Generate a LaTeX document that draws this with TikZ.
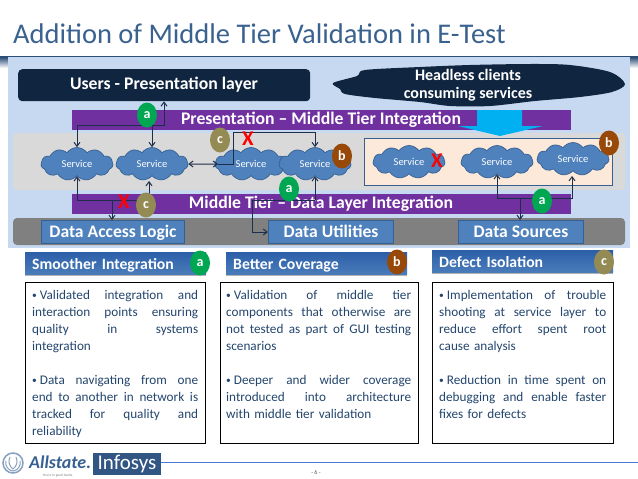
\documentclass[tikz,border=0pt]{standalone}
\usepackage{fontspec}
\setmainfont{Carlito}
\usetikzlibrary{shapes.symbols,shapes.geometric,arrows.meta,shadows}
\definecolor{navy}{HTML}{10253F}
\definecolor{purp}{HTML}{7030A0}
\definecolor{bandblue}{HTML}{C6D9F1}
\definecolor{midblue}{HTML}{4F81BD}
\definecolor{edgeblue}{HTML}{376092}
\definecolor{titleblue}{HTML}{3A6290}
\definecolor{bodyblue}{HTML}{24466E}
\definecolor{barblue}{HTML}{2C5FA8}
\definecolor{linkc}{HTML}{1C2E4A}
\definecolor{peach}{HTML}{FDE9D9}
\definecolor{greenb}{HTML}{00A651}
\definecolor{brownb}{HTML}{984807}
\definecolor{oliveb}{HTML}{948A54}
\definecolor{skyb}{HTML}{00B0F0}
\newcommand{\fs}[1]{\fontsize{#1}{#1}\selectfont}
\newcommand{\jl}[1]{\makebox[\hsize][s]{\spaceskip=0pt\relax\xspaceskip=0pt\relax #1}}
\newcommand{\bw}[1]{\mbox{{\raisebox{.8pt}{\fs{9.5}•}} #1}}
\tikzset{
  x=1pt,y=-1pt,
  band/.style={rectangle,inner sep=0pt,anchor=north west},
  purplebar/.style={band,fill=purp},
  svc/.style={cloud,cloud puffs=11,cloud puff arc=110,aspect=2.2,draw=edgeblue,line width=.7pt,fill=midblue,text=white,font=\fs{10.5},inner sep=0pt,minimum width=72pt,minimum height=33pt},
  datab/.style={band,fill=midblue,draw=edgeblue,line width=1pt,text=white,font=\bfseries\fs{17.6},minimum height=23pt,text height=13pt,text depth=3pt},
  badge/.style={ellipse,inner sep=0pt,minimum width=20pt,minimum height=25pt,text=white,font=\bfseries\fs{14}},
  abadge/.style={badge,fill=greenb},
  bbadge/.style={badge,fill=brownb},
  cbadge/.style={badge,fill=oliveb},
  link/.style={draw=linkc,line width=1pt},
  tip/.style={-{Straight Barb[length=4pt,width=6pt]}},
  redx/.style={text=red,font=\bfseries\fs{21}},
  head/.style={band,inner xsep=7pt,top color=barblue,bottom color=midblue!85!barblue,drop shadow={shadow xshift=0pt,shadow yshift=-1.5pt,fill=black,opacity=.3},text=white,font=\bfseries\fs{15.7},text width=167pt,minimum height=22pt,text height=13pt,text depth=1pt,align=left},
  textbox/.style={band,draw=black,line width=1pt,minimum height=161pt},
  body/.style={anchor=north west,inner sep=0pt,text=bodyblue,font=\fontsize{13.2}{17}\selectfont,align=left},
  bartext/.style={text=white,font=\bfseries\fs{17.7}},
  cloudtext/.style={text=white,font=\bfseries\fs{16}},
}
\begin{document}
\begin{tikzpicture}
\useasboundingbox (0,0) rectangle (638,479);
\fill[white] (0,0) rectangle (638,479);
% title
\node[anchor=base west,inner sep=0pt,text=titleblue,font=\fs{28.5}] (title) at (13,43) {Addition of Middle Tier Validation in E-Test};
% header band
\fill[top color=edgeblue!80!black,bottom color=white] (0,57) rectangle (8,68);
\fill[top color=edgeblue!80!black,bottom color=white] (630,57) rectangle (638,68);
\fill[bandblue] (8,57) rectangle (630,248);
\draw[edgeblue!80!black,line width=1.3pt] (0,56.5) -- (638,56.5);
% bands
\fill[gray!30,rounded corners=4pt] (13,133) rectangle (625,190);
\fill[gray!100,rounded corners=4pt] (13,218) rectangle (625,245);
\node[band,fill=navy,rounded corners=4pt,minimum width=292pt,minimum height=32pt] (users) at (18,69) {};
\node[bartext] (userst) at (164,85) {Users - Presentation layer};
\fill[navy] plot[smooth cycle,tension=.5] coordinates {(333,83) (357,76) (365,70) (420,67) (470,65) (530,64) (570,65) (610,72) (625,84) (612,92) (580,97) (535,101) (490,106) (450,106) (420,102) (375,98) (345,94) (340,89)};
\node[cloudtext] (hl1) at (468,75) {Headless clients};
\node[cloudtext] (hl2) at (468,94) {consuming services};
% purple bars
\node[purplebar,minimum width=499pt,minimum height=20pt] (pbar) at (72,110) {};
\node[bartext] (pbart) at (321,120) {Presentation – Middle Tier Integration};
\node[purplebar,minimum width=499pt,minimum height=20pt] (mbar) at (72,194) {};
\node[bartext] (mbart) at (321,204) {Middle Tier – Data Layer Integration};
% right box
\node[band,fill=peach,draw=edgeblue,line width=1.2pt,minimum width=248pt,minimum height=47pt] (rbox) at (364,138) {};
% big arrow
\fill[skyb] (477,110) -- (522,110) -- (522,126) -- (543,126) -- (500,136) -- (458,126) -- (477,126) -- cycle;
% services
\node[svc] (s1) at (77,164) {Service};
\node[svc] (s2) at (152,164) {Service};
\node[svc] (s3) at (251,164) {Service};
\node[svc] (s4) at (315,164) {Service};
\node[svc] (s5) at (409,162) {Service};
\node[svc] (s6) at (497,162) {Service};
\node[svc] (s7) at (573,159) {Service};
% data boxes
\node[datab,minimum width=143pt] (dal) at (41,220) {Data Access Logic};
\node[datab,minimum width=125pt] (du) at (268,220) {Data Utilities};
\node[datab,minimum width=125pt] (ds) at (458,220) {Data Sources};
% connectors
\coordinate (j1) at (77,125);
\coordinate (j2) at (164,125);
\coordinate (j3) at (152,125);
\draw[link,tip] (j1) -- (s1.north);
\draw[link,tip] (j1) -- (j2) -- (users.south -| j2);
\draw[link,tip] (j3) -- (s2.north);
\coordinate (j4) at (233,164);
\coordinate (j5) at (233,132);
\coordinate (j6) at (315,132);
\draw[link,{Straight Barb[length=4pt,width=6pt]}-{Straight Barb[length=4pt,width=6pt]}] (s2.east) -- (218,164);
\draw[link] (218,164) -- (j4) -- (j5) -- (j6);
\draw[link,tip] (j6) -- (s4.north);
\coordinate (j7) at (77,200);
\coordinate (j8) at (149,200);
\coordinate (j9) at (112,200);
\draw[link,tip] (j7) -- (s1.south);
\draw[link,tip] (j7) -- (j8) -- (149,181);
\draw[link,tip] (j9) -- (j9 |- dal.north);
\coordinate (j10) at (315,200);
\coordinate (j11) at (252,200);
\draw[link,tip] (j10) -- (s4.south);
\draw[link,tip] (j10) -- (j11) |- (du.west);
\coordinate (j13) at (497,198);
\coordinate (j14) at (572,198);
\coordinate (j15) at (520,198);
\draw[link,tip] (j13) -- (s6.south);
\draw[link,tip] (j13) -- (j14) -- (572,176);
\draw[link,tip] (j15) -- (j15 |- ds.north);
% red crosses
\node[redx] (x1) at (248,139) {X};
\node[redx] (x2) at (124,202) {X};
\node[redx] (x3) at (437,161) {X};
% badges
\node[abadge] (ba1) at (147,115) {a};
\node[cbadge] (bc1) at (220,140) {c};
\node[bbadge] (bb1) at (342,156) {b};
\node[bbadge] (bb2) at (609,143) {b};
\node[cbadge] (bc2) at (146,205) {c};
\node[abadge] (ba2) at (289,189) {a};
\node[abadge] (ba3) at (542,201) {a};
% headers
\node[head] (h1) at (25,252) {Smoother Integration};
\node[head] (h2) at (226,252) {Better Coverage};
\node[head] (h3) at (432,250) {Defect Isolation};
\node[abadge] (ba4) at (200,263) {a};
\node[bbadge] (bb3) at (397,262) {b};
\node[cbadge] (bc3) at (604,262) {c};
% text boxes
\node[textbox,minimum width=180pt] (t1) at (25,282) {};
\node[textbox,minimum width=198pt] (t2) at (220,282) {};
\node[textbox,minimum width=181pt] (t3) at (432,282) {};
\node[body,text width=166pt] (b1) at (32,289.7) {%
\jl{\bw{Validated} integration and}\\
\jl{interaction points ensuring}\\
\jl{quality in systems}\\
integration\\[17pt]
\jl{\bw{Data} navigating from one}\\
\jl{end to another in network is}\\
\jl{tracked for quality and}\\
reliability};
\node[body,text width=185pt] (b2) at (226,289.7) {%
\jl{\bw{Validation} of middle tier}\\
\jl{components that otherwise are}\\
\jl{not tested as part of GUI testing}\\
scenarios\\[17pt]
\jl{\bw{Deeper} and wider coverage}\\
\jl{introduced into architecture}\\
with middle tier validation};
\node[body,text width=167pt] (b3) at (439,289.7) {%
\jl{\bw{Implementation} of trouble}\\
\jl{shooting at service layer to}\\
\jl{reduce effort spent root}\\
cause analysis\\[17pt]
\jl{\bw{Reduction} in time spent on}\\
\jl{debugging and enable faster}\\
fixes for defects};
% footer
\node[circle,draw=edgeblue!60,line width=1.5pt,inner sep=0pt,minimum size=20pt,fill=white] (logo) at (13,463) {};
\draw[edgeblue!60,line width=1pt] (6,461) to[bend right=50] (13,471) to[bend right=50] (20,461);
\draw[edgeblue!60,line width=1pt] (10,457) to[bend right=40] (13,469) to[bend right=40] (16,457);
\node[anchor=base west,inner sep=0pt,text=edgeblue,font=\bfseries\itshape\fs{18}] (allst) at (29,468) {Allstate.};
\node[anchor=base,inner sep=0pt,text=gray,font=\fs{3.5}] (hands) at (58,476.5) {You're in good hands.};
\node[band,fill=edgeblue!90!black,minimum width=68pt,minimum height=22pt] (inf) at (93,453) {};
\node[text=white,font=\fs{21}] (inft) at (127,464) {Infosys};
\draw[teal!50!blue!70,line width=.8pt] (inf.east |- 0,462.5) -- (638,462.5);
\node[text=gray!70!black,font=\fs{6}] (pg) at (316,472) {- 6 -};
\end{tikzpicture}
\end{document}
